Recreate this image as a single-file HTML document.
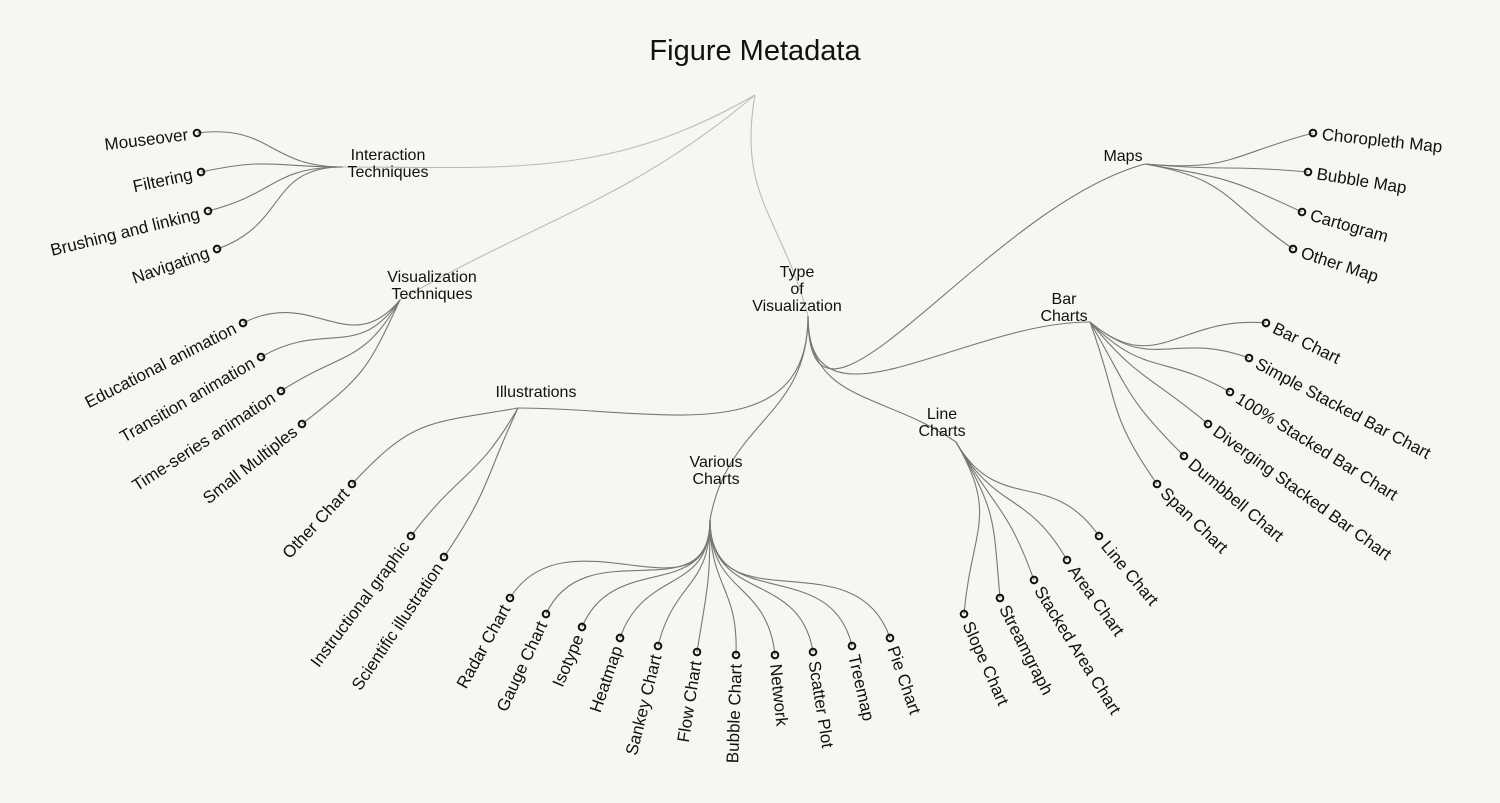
<!DOCTYPE html>
<html><head><meta charset="utf-8">
<style>
html,body{margin:0;padding:0;background:#f8f6f0;}
svg{display:block;}
text{font-family:"Liberation Sans",Arial,sans-serif;font-size:17px;fill:#111;}
.t{font-size:29px;}
.n text{font-size:16px;}
</style></head>
<body>
<svg id="s" width="1500" height="803" viewBox="0 0 1500 803">
<rect width="1500" height="803" fill="#f8f6f0"/>
<g id="links" fill="none"></g>
<text class="t" x="755" y="60" text-anchor="middle">Figure Metadata</text>

<g class="n" text-anchor="middle">
<text x="388" y="160">Interaction</text><text x="388" y="177">Techniques</text>
<text x="432" y="282">Visualization</text><text x="432" y="299">Techniques</text>
<text x="797" y="277">Type</text><text x="797" y="294">of</text><text x="797" y="311">Visualization</text>
<text x="1123" y="161">Maps</text>
<text x="1064" y="304">Bar</text><text x="1064" y="321">Charts</text>
<text x="536" y="397">Illustrations</text>
<text x="942" y="419">Line</text><text x="942" y="436">Charts</text>
<text x="716" y="467">Various</text><text x="716" y="484">Charts</text>
</g>

<g id="leaves" fill="none" stroke="#111" stroke-width="2">
<g transform="translate(197,133) rotate(-7)"><circle r="3.3"/><text x="-9" dy="0.35em" text-anchor="end" stroke="none">Mouseover</text></g>
<g transform="translate(201,172) rotate(-12)"><circle r="3.3"/><text x="-9" dy="0.35em" text-anchor="end" stroke="none">Filtering</text></g>
<g transform="translate(208,211) rotate(-14)"><circle r="3.3"/><text x="-9" dy="0.35em" text-anchor="end" stroke="none">Brushing and linking</text></g>
<g transform="translate(217,249) rotate(-19)"><circle r="3.3"/><text x="-9" dy="0.35em" text-anchor="end" stroke="none">Navigating</text></g>

<g transform="translate(243,323) rotate(-27)"><circle r="3.3"/><text x="-9" dy="0.35em" text-anchor="end" stroke="none">Educational animation</text></g>
<g transform="translate(261,357) rotate(-30)"><circle r="3.3"/><text x="-9" dy="0.35em" text-anchor="end" stroke="none">Transition animation</text></g>
<g transform="translate(281,391) rotate(-33)"><circle r="3.3"/><text x="-9" dy="0.35em" text-anchor="end" stroke="none">Time-series animation</text></g>
<g transform="translate(302,424) rotate(-38)"><circle r="3.3"/><text x="-9" dy="0.35em" text-anchor="end" stroke="none">Small Multiples</text></g>

<g transform="translate(352,484) rotate(-47)"><circle r="3.3"/><text x="-9" dy="0.35em" text-anchor="end" stroke="none">Other Chart</text></g>
<g transform="translate(411,536) rotate(-53)"><circle r="3.3"/><text x="-9" dy="0.35em" text-anchor="end" stroke="none">Instructional graphic</text></g>
<g transform="translate(444,557) rotate(-56)"><circle r="3.3"/><text x="-9" dy="0.35em" text-anchor="end" stroke="none">Scientific illustration</text></g>

<g transform="translate(510,598) rotate(-61)"><circle r="3.3"/><text x="-9" dy="0.35em" text-anchor="end" stroke="none">Radar Chart</text></g>
<g transform="translate(546,614) rotate(-65)"><circle r="3.3"/><text x="-9" dy="0.35em" text-anchor="end" stroke="none">Gauge Chart</text></g>
<g transform="translate(582,627) rotate(-67)"><circle r="3.3"/><text x="-9" dy="0.35em" text-anchor="end" stroke="none">Isotype</text></g>
<g transform="translate(620,638) rotate(-71)"><circle r="3.3"/><text x="-9" dy="0.35em" text-anchor="end" stroke="none">Heatmap</text></g>
<g transform="translate(658,646) rotate(-76)"><circle r="3.3"/><text x="-9" dy="0.35em" text-anchor="end" stroke="none">Sankey Chart</text></g>
<g transform="translate(697,652) rotate(-81)"><circle r="3.3"/><text x="-9" dy="0.35em" text-anchor="end" stroke="none">Flow Chart</text></g>
<g transform="translate(736,655) rotate(-88)"><circle r="3.3"/><text x="-9" dy="0.35em" text-anchor="end" stroke="none">Bubble Chart</text></g>
<g transform="translate(775,655) rotate(84)"><circle r="3.3"/><text x="9" dy="0.35em" stroke="none">Network</text></g>
<g transform="translate(813,652) rotate(81)"><circle r="3.3"/><text x="9" dy="0.35em" stroke="none">Scatter Plot</text></g>
<g transform="translate(852,646) rotate(77)"><circle r="3.3"/><text x="9" dy="0.35em" stroke="none">Treemap</text></g>
<g transform="translate(890,638) rotate(71)"><circle r="3.3"/><text x="9" dy="0.35em" stroke="none">Pie Chart</text></g>

<g transform="translate(964,614) rotate(66)"><circle r="3.3"/><text x="9" dy="0.35em" stroke="none">Slope Chart</text></g>
<g transform="translate(1000,598) rotate(63)"><circle r="3.3"/><text x="9" dy="0.35em" stroke="none">Streamgraph</text></g>
<g transform="translate(1034,580) rotate(58)"><circle r="3.3"/><text x="9" dy="0.35em" stroke="none">Stacked Area Chart</text></g>
<g transform="translate(1067,560) rotate(54)"><circle r="3.3"/><text x="9" dy="0.35em" stroke="none">Area Chart</text></g>
<g transform="translate(1099,536) rotate(50)"><circle r="3.3"/><text x="9" dy="0.35em" stroke="none">Line Chart</text></g>

<g transform="translate(1266,323) rotate(26)"><circle r="3.3"/><text x="9" dy="0.35em" stroke="none">Bar Chart</text></g>
<g transform="translate(1249,358) rotate(28)"><circle r="3.3"/><text x="9" dy="0.35em" stroke="none">Simple Stacked Bar Chart</text></g>
<g transform="translate(1230,392) rotate(32)"><circle r="3.3"/><text x="9" dy="0.35em" stroke="none">100% Stacked Bar Chart</text></g>
<g transform="translate(1208,424) rotate(36)"><circle r="3.3"/><text x="9" dy="0.35em" stroke="none">Diverging Stacked Bar Chart</text></g>
<g transform="translate(1184,456) rotate(40)"><circle r="3.3"/><text x="9" dy="0.35em" stroke="none">Dumbbell Chart</text></g>
<g transform="translate(1157,484) rotate(44)"><circle r="3.3"/><text x="9" dy="0.35em" stroke="none">Span Chart</text></g>

<g transform="translate(1313,133) rotate(6)"><circle r="3.3"/><text x="9" dy="0.35em" stroke="none">Choropleth Map</text></g>
<g transform="translate(1308,172) rotate(9)"><circle r="3.3"/><text x="9" dy="0.35em" stroke="none">Bubble Map</text></g>
<g transform="translate(1302,212) rotate(16)"><circle r="3.3"/><text x="9" dy="0.35em" stroke="none">Cartogram</text></g>
<g transform="translate(1293,249) rotate(18)"><circle r="3.3"/><text x="9" dy="0.35em" stroke="none">Other Map</text></g>
</g>
</svg>
<script>
(function(){
var R=[755,95],IT=[343,167],VT=[400,300],TV=[808,316],MP=[1145,164],BC=[1090,322],IL=[518,408],LC=[956,442],VC=[710,520];
var L=[
 [R,IT,150,180,0.4,'#bbb'],[R,VT,140,150,0.4,'#bbb'],[R,TV,100,75,0.45,'#bbb'],
 [TV,MP,90,-15,0.45],[TV,BC,90,0,0.45],[TV,IL,90,180,0.45],[TV,LC,90,35,0.45],[TV,VC,90,100,0.45],
 [IT,[197,133],180,173],[IT,[201,172],180,168],[IT,[208,211],180,166],[IT,[217,249],180,161],
 [VT,[243,323],130,153],[VT,[261,357],125,150],[VT,[281,391],120,147],[VT,[302,424],115,142],
 [IL,[352,484],170,133],[IL,[411,536],120,127],[IL,[444,557],115,124],
 [VC,[510,598],90,122],[VC,[546,614],90,115],[VC,[582,627],90,113],[VC,[620,638],90,109],[VC,[658,646],90,104],[VC,[697,652],90,99],[VC,[736,655],90,92],[VC,[775,655],90,84],[VC,[813,652],90,81],[VC,[852,646],90,77],[VC,[890,638],90,71],
 [LC,[964,614],60,95],[LC,[1000,598],60,85],[LC,[1034,580],60,70],[LC,[1067,560],60,60],[LC,[1099,536],60,55],
 [BC,[1266,323],40,5],[BC,[1249,358],40,20],[BC,[1230,392],45,30],[BC,[1208,424],50,40],[BC,[1184,456],60,45],[BC,[1157,484],70,55],
 [MP,[1313,133],5,-15],[MP,[1308,172],5,5],[MP,[1302,212],10,25],[MP,[1293,249],10,35]
];
var g=document.getElementById('links'),ns='http://www.w3.org/2000/svg';
L.forEach(function(l){
 var P=l[0],C=l[1],a1=l[2]*Math.PI/180,a2=l[3]*Math.PI/180,k=l[4]||0.5;
 var d=Math.hypot(C[0]-P[0],C[1]-P[1])*k;
 var c1=[P[0]+d*Math.cos(a1),P[1]+d*Math.sin(a1)],c2=[C[0]-d*Math.cos(a2),C[1]-d*Math.sin(a2)];
 var p=document.createElementNS(ns,'path');
 p.setAttribute('d','M'+P+' C'+c1+' '+c2+' '+C);
 p.setAttribute('stroke',l[5]||'#777');p.setAttribute('stroke-width','1.1');
 g.appendChild(p);
});
})();
</script>
</body></html>
